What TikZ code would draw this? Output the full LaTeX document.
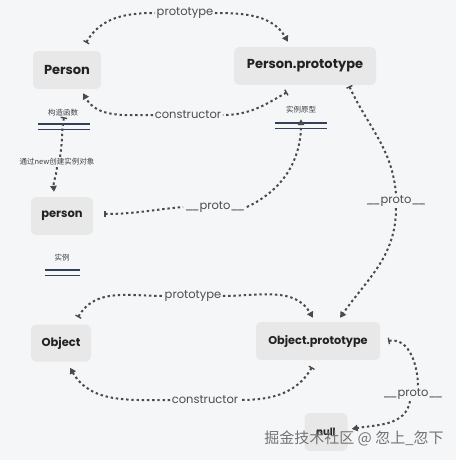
\documentclass[tikz,border=0pt]{standalone}
\usepackage{fontspec}
\setmainfont{Poppins}
\newfontfamily\cjk{Noto Sans CJK SC}
\usetikzlibrary{arrows.meta}
\definecolor{bg}{HTML}{F5F6F8}
\definecolor{boxfill}{HTML}{E8E8E9}
\definecolor{txt}{HTML}{222222}
\definecolor{conn}{HTML}{4A4A4A}
\definecolor{navy}{HTML}{34405A}
\newcommand{\us}{\_\kern-2.2pt\_}
\tikzset{
  box/.style={rectangle, rounded corners=5pt, fill=boxfill, text=txt, font=\bfseries\fontsize{13}{15}\selectfont, inner sep=0pt},
  lbl/.style={text=black!70, font=\fontsize{11.5}{13}\selectfont, inner sep=1.5pt},
  cn/.style={text=black!75, font=\cjk\fontsize{7.5}{9}\selectfont, inner sep=1pt},
  dotline/.style={draw=conn, line width=2pt, dash pattern=on 2.4pt off 2.8pt},
  linkA/.style={dotline, {Bar[width=6.5pt,line width=1.4pt]}-},
  linkB/.style={dotline, -{Triangle[width=6.5pt,length=6pt]}},
  dbl/.style={draw=navy, line width=1.4pt}
}
\begin{document}
\begin{tikzpicture}[x=1pt,y=-1pt]
\fill[bg] (0,0) rectangle (456,460);
\useasboundingbox (0,0) rectangle (456,460);

% nodes
\node[box, minimum width=68pt, minimum height=38pt] (P) at (67,70) {Person};
\node[box, minimum width=142pt, minimum height=38pt] (PP) at (305,66) {Person.prototype};
\node[box, minimum width=62pt, minimum height=38pt, font=\bfseries\fontsize{11.5}{13}\selectfont] (p) at (62,216) {person};
\node[box, minimum width=60pt, minimum height=37pt, font=\bfseries\fontsize{11.5}{13}\selectfont] (O) at (61,343) {Object};
\node[box, minimum width=124pt, minimum height=38pt, font=\bfseries\fontsize{11.3}{13}\selectfont] (OP) at (318,341) {Object.prototype};
\node[box, minimum width=43pt, minimum height=38pt, font=\bfseries\fontsize{10}{12}\selectfont] (N) at (326,432) {null};

% captions with double lines
\node[cn] (c1) at (63,113) {构造函数};
\node[inner sep=0pt, minimum width=52pt, minimum height=5pt] (b1) at (64,126.5) {};
\draw[dbl] (b1.north west) -- (b1.north east) (b1.south west) -- (b1.south east);
\node[cn] (c2) at (301,110) {实例原型};
\node[inner sep=0pt, minimum width=52pt, minimum height=5pt] (b2) at (301,125.5) {};
\draw[dbl] (b2.north west) -- (b2.north east) (b2.south west) -- (b2.south east);
\node[cn] (c3) at (62,258) {实例};
\node[inner sep=0pt, minimum width=35pt, minimum height=5pt] (b3) at (62.5,272.5) {};
\draw[dbl] (b3.north west) -- (b3.north east) (b3.south west) -- (b3.south east);

% connector labels
\node[lbl] (l1) at (185,13) {prototype};
\node[lbl] (l2) at (188,115) {constructor};
\node[cn, inner sep=1.5pt] (l3) at (57,162) {通过new创建实例对象};
\node[lbl] (l4) at (215,207) {\us proto\us};
\node[lbl] (l5) at (396,201) {\us proto\us};
\node[lbl] (l6) at (193,296) {prototype};
\node[lbl] (l7) at (205,400) {constructor};
\node[lbl] (l8) at (413,394) {\us proto\us};

% Person -> Person.prototype (prototype)
\draw[linkA] ([shift={(19,-8)}]P.north) to[out=60,in=180] (l1.west);
\draw[linkB] (l1.east) to[out=0,in=120] ([shift={(-17,-5)}]PP.north);
% Person.prototype -> Person (constructor)
\draw[linkA] ([shift={(-18,7)}]PP.south) to[out=-150,in=0] (l2.east);
\draw[linkB] (l2.west) to[out=180,in=-60] ([shift={(16,4)}]P.south);
% Person -> person (new)
\draw[linkA] ([yshift=12pt]b1.south) to[out=-100,in=80] (l3.north -| 60,0);
\draw[linkB] (l3.south -| 57,0) to[out=-95,in=95] ([shift={(-8,-5)}]p.north);
% person -> 实例原型 (__proto__)
\draw[linkA] ([shift={(11,-2)}]p.east) to[out=0,in=185] (l4.west);
\draw[linkB] (l4.east) to[out=25,in=-90] ([yshift=9pt]b2.south);
% Person.prototype -> Object.prototype (__proto__)
\draw[linkA] ([shift={(-27,1)}]PP.south east) to[out=-65,in=95] (l5.north);
\draw[linkB] (l5.south) to[out=-90,in=55] ([shift={(22,-4)}]OP.north);
% Object -> Object.prototype (prototype)
\draw[linkA] ([shift={(17,-7)}]O.north) to[out=60,in=180] (l6.west);
\draw[linkB] (l6.east) to[out=0,in=120] ([shift={(-5,-4)}]OP.north);
% Object.prototype -> Object (constructor)
\draw[linkA] ([shift={(-6,7)}]OP.south) to[out=-120,in=0] (l7.east);
\draw[linkB] (l7.west) to[out=180,in=-60] ([shift={(9,6)}]O.south);
% Object.prototype -> null (__proto__)
\draw[linkA] ([shift={(8,0)}]OP.east) to[out=10,in=90] ([xshift=5pt]l8.north);
\draw[linkB] ([xshift=-3pt]l8.south) to[out=-100,in=10] ([shift={(4,-3)}]N.east);

% watermark
\node[text=black!55, font=\cjk\fontsize{15}{17}\selectfont, inner sep=0pt] (wm) at (354,438) {掘金技术社区 @ 忽上\_忽下};
\end{tikzpicture}
\end{document}
